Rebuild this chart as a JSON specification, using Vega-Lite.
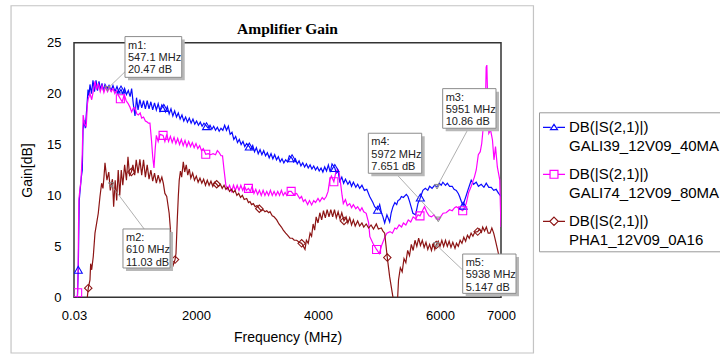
{
  "$schema": "https://vega.github.io/schema/vega-lite/v6.json",
  "width": 427,
  "height": 254.6,
  "autosize": {"type": "none"},
  "padding": {"left": 74, "top": 42.7, "right": 219, "bottom": 58.7},
  "background": "white",
  "title": {"text": "Amplifier Gain", "frame": "group", "font": "Liberation Serif", "fontSize": 15.5, "fontWeight": "bold", "color": "black", "baseline": "alphabetic", "offset": -44.3, "anchor": "middle"},
  "config": {
    "view": {"stroke": "#333333", "strokeWidth": 1.5},
    "axis": {"labelFont": "Liberation Sans", "labelFontSize": 13, "labelColor": "black", "titleFont": "Liberation Sans", "titleFontSize": 14, "titleFontWeight": "normal", "titleColor": "black", "ticks": false, "domain": false, "gridColor": "#cccccc", "gridWidth": 1}
  },
  "datasets": {
    "gali39": [
      {"f":0.03,"g":-6},{"f":45,"g":-1},{"f":57,"g":0.3},{"f":70,"g":2.7,"m":1},{"f":78,"g":6},{"f":86,"g":9.5},{"f":100,"g":10.5},{"f":120,"g":11.8},{"f":136,"g":12.5},{"f":148,"g":16.4},{"f":164,"g":17.4},{"f":185,"g":16.6},{"f":213,"g":18.9},{"f":230,"g":20.4},{"f":246,"g":19.8},{"f":262,"g":20.9},{"f":287,"g":20.0},{"f":311,"g":21.3},{"f":336,"g":20.2},{"f":361,"g":21.3},{"f":385,"g":20.3},{"f":410,"g":21.2},{"f":434,"g":20.4},{"f":459,"g":21.0},{"f":484,"g":20.3},{"f":508,"g":20.9},{"f":547.1,"g":20.47},{"f":574,"g":20.8},{"f":607,"g":20.3},{"f":639,"g":20.8},{"f":672,"g":20.2},{"f":705,"g":20.7},{"f":738,"g":20.1},{"f":771,"g":20.4,"m":1},{"f":800,"g":20.0},{"f":830,"g":20.5},{"f":860,"g":19.9},{"f":890,"g":20.3},{"f":920,"g":19.7},{"f":945,"g":20.5},{"f":972,"g":19.0},{"f":1000,"g":17.8},{"f":1025,"g":19.6},{"f":1050,"g":18.4},{"f":1080,"g":19.4},{"f":1110,"g":18.6},{"f":1140,"g":19.3},{"f":1170,"g":18.5},{"f":1200,"g":19.3},{"f":1230,"g":18.5},{"f":1260,"g":19.2},{"f":1290,"g":18.4},{"f":1320,"g":19.1},{"f":1350,"g":18.4},{"f":1380,"g":19.0},{"f":1410,"g":18.3},{"f":1440,"g":18.9},{"f":1472,"g":18.6,"m":1},{"f":1500,"g":18.2},{"f":1530,"g":18.7},{"f":1560,"g":18.0},{"f":1590,"g":18.5},{"f":1620,"g":17.8},{"f":1650,"g":18.3},{"f":1680,"g":17.7},{"f":1710,"g":18.1},{"f":1740,"g":17.5},{"f":1770,"g":17.9},{"f":1800,"g":17.3},{"f":1830,"g":17.7},{"f":1860,"g":17.2},{"f":1890,"g":17.6},{"f":1920,"g":17.1},{"f":1950,"g":17.5},{"f":1980,"g":17.0},{"f":2010,"g":17.3},{"f":2040,"g":16.9},{"f":2070,"g":17.2},{"f":2100,"g":16.8},{"f":2130,"g":17.1},{"f":2173,"g":16.8,"m":1},{"f":2200,"g":16.6},{"f":2230,"g":16.9},{"f":2260,"g":16.5},{"f":2290,"g":16.8},{"f":2320,"g":16.4},{"f":2350,"g":16.7},{"f":2380,"g":16.3},{"f":2410,"g":16.6},{"f":2440,"g":16.4},{"f":2470,"g":16.9},{"f":2500,"g":16.4},{"f":2530,"g":16.8},{"f":2560,"g":16.0},{"f":2590,"g":16.2},{"f":2620,"g":15.5},{"f":2650,"g":15.8},{"f":2680,"g":15.2},{"f":2710,"g":15.5},{"f":2740,"g":15.0},{"f":2770,"g":15.3},{"f":2800,"g":14.8},{"f":2830,"g":15.1},{"f":2874,"g":14.8,"m":1},{"f":2900,"g":14.5},{"f":2930,"g":14.9},{"f":2960,"g":14.3},{"f":2990,"g":14.7},{"f":3020,"g":14.1},{"f":3050,"g":14.5},{"f":3080,"g":14.0},{"f":3110,"g":14.4},{"f":3140,"g":13.9},{"f":3170,"g":14.2},{"f":3200,"g":13.7},{"f":3230,"g":14.1},{"f":3260,"g":13.6},{"f":3290,"g":14.0},{"f":3320,"g":13.5},{"f":3350,"g":13.8},{"f":3380,"g":13.3},{"f":3410,"g":13.6},{"f":3440,"g":13.2},{"f":3470,"g":13.5},{"f":3500,"g":13.3},{"f":3530,"g":13.9},{"f":3575,"g":13.65,"m":1},{"f":3600,"g":13.3},{"f":3630,"g":13.6},{"f":3660,"g":13.1},{"f":3690,"g":13.4},{"f":3720,"g":12.9},{"f":3750,"g":13.2},{"f":3780,"g":12.8},{"f":3810,"g":13.1},{"f":3840,"g":12.7},{"f":3870,"g":13.0},{"f":3900,"g":12.6},{"f":3930,"g":12.9},{"f":3960,"g":12.5},{"f":3990,"g":12.8},{"f":4020,"g":12.4},{"f":4050,"g":12.7},{"f":4080,"g":12.3},{"f":4110,"g":12.8},{"f":4140,"g":12.4},{"f":4170,"g":13.0},{"f":4200,"g":12.3},{"f":4230,"g":13.1},{"f":4276,"g":12.7,"m":1},{"f":4300,"g":12.2},{"f":4330,"g":12.4},{"f":4356,"g":11.4},{"f":4390,"g":11.8},{"f":4420,"g":11.2},{"f":4450,"g":11.6},{"f":4490,"g":11.1},{"f":4520,"g":11.4},{"f":4550,"g":10.9},{"f":4580,"g":11.3},{"f":4620,"g":10.8},{"f":4650,"g":11.1},{"f":4683,"g":10.7},{"f":4720,"g":11.0},{"f":4760,"g":10.5},{"f":4800,"g":10.6},{"f":4847,"g":9.9},{"f":4900,"g":9.3},{"f":4929,"g":8.9},{"f":4977,"g":8.6,"m":1},{"f":5011,"g":9.1},{"f":5040,"g":8.3},{"f":5065,"g":7.9},{"f":5093,"g":7.3},{"f":5130,"g":8.1},{"f":5175,"g":7.4},{"f":5200,"g":8.3},{"f":5229,"g":8.9},{"f":5260,"g":9.3},{"f":5290,"g":9.1},{"f":5311,"g":9.5},{"f":5340,"g":9.6},{"f":5367,"g":9.9},{"f":5400,"g":9.8},{"f":5448,"g":10.1},{"f":5475,"g":9.9},{"f":5502,"g":9.4},{"f":5530,"g":8.8},{"f":5556,"g":8.25},{"f":5600,"g":8.1},{"f":5638,"g":9.2},{"f":5678,"g":9.8,"m":1},{"f":5720,"g":10.5},{"f":5760,"g":10.7},{"f":5800,"g":10.5},{"f":5830,"g":10.9},{"f":5870,"g":10.7},{"f":5910,"g":11.0},{"f":5951,"g":10.86},{"f":5990,"g":11.2},{"f":6020,"g":11.0},{"f":6047,"g":11.3},{"f":6090,"g":11.0},{"f":6120,"g":11.2},{"f":6157,"g":10.9},{"f":6200,"g":10.9},{"f":6230,"g":10.6},{"f":6267,"g":10.5},{"f":6300,"g":10.2},{"f":6321,"g":9.9},{"f":6350,"g":9.4},{"f":6379,"g":9.0,"m":1},{"f":6402,"g":9.5},{"f":6430,"g":10.0},{"f":6456,"g":10.5},{"f":6490,"g":11.1},{"f":6512,"g":11.5},{"f":6550,"g":11.1},{"f":6594,"g":11.3},{"f":6630,"g":10.9},{"f":6676,"g":11.1},{"f":6720,"g":10.8},{"f":6758,"g":11.2},{"f":6800,"g":10.8},{"f":6840,"g":10.8},{"f":6880,"g":10.5},{"f":6921,"g":10.6},{"f":6960,"g":10.2},{"f":6975,"g":10.1},{"f":7000,"g":9.9}
    ],
    "gali74": [
      {"f":0.03,"g":-6},{"f":45,"g":-1},{"f":60,"g":0.45,"m":1},{"f":68,"g":3},{"f":75,"g":7.5},{"f":80,"g":9.6},{"f":95,"g":10.5},{"f":115,"g":11.5},{"f":135,"g":14},{"f":150,"g":17.9},{"f":175,"g":17.0},{"f":200,"g":16.8},{"f":220,"g":19.0},{"f":234,"g":19.5},{"f":262,"g":20.0},{"f":290,"g":19.4},{"f":315,"g":20.2},{"f":344,"g":21.2},{"f":372,"g":20.4},{"f":400,"g":21.0},{"f":430,"g":20.2},{"f":460,"g":20.8},{"f":490,"g":20.1},{"f":520,"g":20.7},{"f":550,"g":20.2},{"f":580,"g":20.6},{"f":610,"g":20.2},{"f":640,"g":20.5},{"f":670,"g":20.0},{"f":700,"g":20.3},{"f":730,"g":19.8},{"f":760,"g":19.5,"m":1},{"f":790,"g":19.2},{"f":825,"g":19.9},{"f":855,"g":19.3},{"f":885,"g":19.05},{"f":915,"g":18.7},{"f":945,"g":18.2},{"f":975,"g":18.6},{"f":1000,"g":18.6},{"f":1030,"g":18.0},{"f":1055,"g":17.9},{"f":1085,"g":18.1},{"f":1110,"g":17.6},{"f":1140,"g":17.7},{"f":1170,"g":17.3},{"f":1191,"g":17.25},{"f":1220,"g":17.1},{"f":1245,"g":17.1},{"f":1270,"g":15.45},{"f":1290,"g":13.8},{"f":1311,"g":12.7},{"f":1330,"g":14.5},{"f":1350,"g":15.9},{"f":1380,"g":15.3},{"f":1410,"g":16.0},{"f":1460,"g":15.9,"m":1},{"f":1490,"g":15.3},{"f":1520,"g":16.0},{"f":1550,"g":15.3},{"f":1580,"g":15.8},{"f":1610,"g":15.2},{"f":1640,"g":15.7},{"f":1670,"g":15.1},{"f":1700,"g":15.6},{"f":1730,"g":15.0},{"f":1760,"g":15.5},{"f":1790,"g":14.9},{"f":1820,"g":15.4},{"f":1850,"g":14.8},{"f":1880,"g":15.3},{"f":1910,"g":14.8},{"f":1940,"g":15.2},{"f":1970,"g":14.7},{"f":2000,"g":15.1},{"f":2030,"g":14.6},{"f":2060,"g":14.9},{"f":2090,"g":14.4},{"f":2120,"g":14.6},{"f":2160,"g":14.05,"m":1},{"f":2200,"g":14.1},{"f":2240,"g":14.0},{"f":2280,"g":14.1},{"f":2320,"g":14.0},{"f":2350,"g":14.4},{"f":2380,"g":14.2},{"f":2410,"g":13.9},{"f":2435,"g":13.9},{"f":2460,"g":12.5},{"f":2490,"g":11.0},{"f":2520,"g":10.6},{"f":2550,"g":11.0},{"f":2585,"g":10.4},{"f":2615,"g":11.0},{"f":2645,"g":10.5},{"f":2675,"g":11.0},{"f":2705,"g":10.5},{"f":2735,"g":11.0},{"f":2765,"g":10.5},{"f":2795,"g":10.9},{"f":2825,"g":10.5},{"f":2860,"g":10.7,"m":1},{"f":2890,"g":10.4},{"f":2920,"g":10.9},{"f":2950,"g":10.2},{"f":2980,"g":10.6},{"f":3010,"g":10.1},{"f":3040,"g":10.5},{"f":3070,"g":10.0},{"f":3100,"g":10.5},{"f":3130,"g":10.0},{"f":3160,"g":10.4},{"f":3190,"g":10.0},{"f":3220,"g":10.5},{"f":3250,"g":10.0},{"f":3280,"g":10.4},{"f":3310,"g":10.0},{"f":3340,"g":10.4},{"f":3370,"g":10.0},{"f":3400,"g":10.5},{"f":3430,"g":10.0},{"f":3460,"g":10.3},{"f":3490,"g":10.0},{"f":3520,"g":10.4},{"f":3560,"g":10.4,"m":1},{"f":3600,"g":10.1},{"f":3650,"g":10.2},{"f":3700,"g":9.7},{"f":3730,"g":9.9},{"f":3760,"g":9.4},{"f":3790,"g":9.6},{"f":3830,"g":9.1},{"f":3860,"g":9.5},{"f":3896,"g":9.07},{"f":3930,"g":9.5},{"f":3960,"g":9.3},{"f":4000,"g":9.7},{"f":4030,"g":9.4},{"f":4070,"g":9.8},{"f":4100,"g":9.6},{"f":4135,"g":9.9},{"f":4165,"g":10.4},{"f":4192,"g":11.5},{"f":4220,"g":11.9},{"f":4260,"g":11.35,"m":1},{"f":4290,"g":12.2},{"f":4320,"g":12.6},{"f":4345,"g":12.3},{"f":4370,"g":11.2},{"f":4395,"g":10.0},{"f":4415,"g":9.2},{"f":4450,"g":9.6},{"f":4480,"g":9.0},{"f":4520,"g":9.2},{"f":4550,"g":8.8},{"f":4580,"g":9.1},{"f":4620,"g":8.7},{"f":4650,"g":8.9},{"f":4690,"g":8.5},{"f":4720,"g":8.8},{"f":4750,"g":8.4},{"f":4790,"g":8.25},{"f":4830,"g":7.3},{"f":4850,"g":5.95},{"f":4900,"g":5.3},{"f":4960,"g":4.7,"m":1},{"f":5005,"g":4.3},{"f":5044,"g":5.1},{"f":5098,"g":5.95},{"f":5130,"g":6.3},{"f":5180,"g":6.45},{"f":5220,"g":6.3},{"f":5260,"g":6.8},{"f":5290,"g":6.7},{"f":5330,"g":7.1},{"f":5370,"g":6.9},{"f":5400,"g":7.3},{"f":5440,"g":7.1},{"f":5480,"g":7.6},{"f":5520,"g":7.4},{"f":5560,"g":7.9},{"f":5600,"g":7.7},{"f":5640,"g":8.1},{"f":5672,"g":8.0,"m":1},{"f":5720,"g":8.6},{"f":5746,"g":8.9},{"f":5780,"g":8.4},{"f":5820,"g":8.0},{"f":5860,"g":7.9},{"f":5900,"g":8.1},{"f":5940,"g":7.7},{"f":5972,"g":7.651},{"f":6010,"g":7.9},{"f":6050,"g":8.25},{"f":6100,"g":8.3},{"f":6157,"g":8.6},{"f":6200,"g":8.5},{"f":6240,"g":8.8},{"f":6267,"g":8.9},{"f":6320,"g":8.7},{"f":6372,"g":8.5,"m":1},{"f":6400,"g":8.8},{"f":6430,"g":9.2},{"f":6470,"g":10.3},{"f":6512,"g":10.9},{"f":6566,"g":11.85},{"f":6594,"g":12.5},{"f":6628,"g":14.0},{"f":6660,"g":14.3},{"f":6684,"g":15.1},{"f":6714,"g":17.0},{"f":6745,"g":19.0},{"f":6757,"g":22.6},{"f":6768,"g":22.8},{"f":6779,"g":20.0},{"f":6800,"g":16.1},{"f":6830,"g":16.4},{"f":6860,"g":15.45},{"f":6885,"g":13.5},{"f":6910,"g":14.8},{"f":6940,"g":12.8},{"f":6965,"g":12.0},{"f":6980,"g":11.5},{"f":6990,"g":9.0},{"f":7000,"g":6.9}
    ],
    "pha1": [
      {"f":0.03,"g":-8},{"f":150,"g":-3},{"f":213,"g":-0.3},{"f":234,"g":0.9,"m":1},{"f":262,"g":1.7},{"f":273,"g":3.3},{"f":290,"g":2.7},{"f":316,"g":4.0},{"f":344,"g":6.3},{"f":372,"g":7.3},{"f":398,"g":8.25},{"f":426,"g":9.9},{"f":453,"g":11.2},{"f":475,"g":10.7},{"f":492,"g":11.85},{"f":508,"g":13.2},{"f":540,"g":11.5},{"f":570,"g":12.3},{"f":595,"g":10.5},{"f":610,"g":11.03},{"f":630,"g":11.6},{"f":650,"g":8.9},{"f":675,"g":11.5},{"f":700,"g":9.5},{"f":725,"g":12.5},{"f":750,"g":10.0},{"f":775,"g":12.5},{"f":800,"g":11.0},{"f":830,"g":13.0},{"f":860,"g":11.5},{"f":885,"g":13.8},{"f":910,"g":12.0},{"f":940,"g":12.3,"m":1},{"f":965,"g":13.0},{"f":995,"g":12.0},{"f":1020,"g":13.5},{"f":1050,"g":12.2},{"f":1080,"g":13.55},{"f":1110,"g":12.0},{"f":1140,"g":13.5},{"f":1170,"g":11.8},{"f":1200,"g":13.0},{"f":1230,"g":11.6},{"f":1260,"g":12.5},{"f":1290,"g":11.4},{"f":1320,"g":12.2},{"f":1350,"g":11.2},{"f":1380,"g":12.0},{"f":1410,"g":11.3},{"f":1440,"g":11.8},{"f":1464,"g":11.2},{"f":1490,"g":10.2},{"f":1520,"g":9.9},{"f":1560,"g":8.25},{"f":1590,"g":5.95},{"f":1617,"g":3.0},{"f":1656,"g":3.7,"m":1},{"f":1672,"g":4.3},{"f":1693,"g":7.6},{"f":1710,"g":9.9},{"f":1725,"g":11.5},{"f":1745,"g":12.4},{"f":1765,"g":11.8},{"f":1792,"g":13.3},{"f":1815,"g":12.3},{"f":1840,"g":13.0},{"f":1865,"g":12.0},{"f":1890,"g":12.6},{"f":1915,"g":11.7},{"f":1945,"g":12.2},{"f":1975,"g":11.5},{"f":2005,"g":11.9},{"f":2035,"g":11.3},{"f":2065,"g":11.7},{"f":2095,"g":11.2},{"f":2125,"g":11.6},{"f":2155,"g":11.0},{"f":2185,"g":11.5},{"f":2215,"g":11.0},{"f":2245,"g":11.4},{"f":2275,"g":10.9},{"f":2305,"g":11.3},{"f":2339,"g":11.1,"m":1},{"f":2370,"g":10.9},{"f":2400,"g":11.1},{"f":2430,"g":10.7},{"f":2460,"g":11.0},{"f":2490,"g":10.6},{"f":2520,"g":10.8},{"f":2550,"g":10.4},{"f":2580,"g":10.6},{"f":2611,"g":10.3},{"f":2640,"g":10.5},{"f":2670,"g":10.0},{"f":2700,"g":10.2},{"f":2730,"g":9.8},{"f":2760,"g":10.0},{"f":2790,"g":9.6},{"f":2831,"g":9.7},{"f":2860,"g":9.3},{"f":2885,"g":9.4},{"f":2910,"g":9.1},{"f":2940,"g":9.2},{"f":2970,"g":8.9},{"f":3000,"g":9.0},{"f":3038,"g":8.7,"m":1},{"f":3070,"g":8.5},{"f":3100,"g":8.6},{"f":3130,"g":8.4},{"f":3160,"g":8.5},{"f":3190,"g":8.3},{"f":3213,"g":8.4},{"f":3250,"g":8.0},{"f":3280,"g":7.9},{"f":3323,"g":7.6},{"f":3360,"g":7.2},{"f":3400,"g":6.9},{"f":3431,"g":6.6},{"f":3470,"g":6.3},{"f":3500,"g":6.1},{"f":3541,"g":5.8},{"f":3580,"g":5.8},{"f":3610,"g":5.6},{"f":3651,"g":5.6},{"f":3690,"g":5.4},{"f":3732,"g":5.3,"m":1},{"f":3760,"g":5.0},{"f":3787,"g":4.7},{"f":3810,"g":5.6},{"f":3840,"g":5.3},{"f":3870,"g":6.3},{"f":3895,"g":6.0},{"f":3920,"g":7.2},{"f":3945,"g":6.6},{"f":3970,"g":7.9},{"f":4000,"g":7.3},{"f":4030,"g":8.3},{"f":4060,"g":7.6},{"f":4090,"g":8.5},{"f":4120,"g":7.8},{"f":4150,"g":8.6},{"f":4180,"g":7.9},{"f":4210,"g":8.6},{"f":4240,"g":7.9},{"f":4270,"g":8.6},{"f":4300,"g":7.8},{"f":4330,"g":8.4},{"f":4360,"g":7.7},{"f":4390,"g":8.3},{"f":4426,"g":7.5,"m":1},{"f":4460,"g":7.9},{"f":4490,"g":7.3},{"f":4520,"g":7.8},{"f":4550,"g":7.1},{"f":4580,"g":7.6},{"f":4610,"g":7.0},{"f":4650,"g":7.5},{"f":4683,"g":7.0},{"f":4720,"g":7.3},{"f":4750,"g":6.9},{"f":4790,"g":7.2},{"f":4830,"g":6.8},{"f":4870,"g":7.1},{"f":4910,"g":6.7},{"f":4956,"g":7.2},{"f":4990,"g":6.7},{"f":5038,"g":6.8},{"f":5065,"g":6.5},{"f":5093,"g":6.3},{"f":5136,"g":3.9,"m":1},{"f":5175,"g":2.0},{"f":5229,"g":0.0},{"f":5255,"g":-3},{"f":5280,"g":-3},{"f":5306,"g":0.0},{"f":5320,"g":1.7},{"f":5350,"g":2.9},{"f":5380,"g":2.5},{"f":5410,"g":3.8},{"f":5440,"g":3.4},{"f":5470,"g":4.6},{"f":5500,"g":4.1},{"f":5530,"g":5.2},{"f":5560,"g":4.6},{"f":5590,"g":5.6},{"f":5620,"g":5.0},{"f":5650,"g":5.8},{"f":5680,"g":5.1},{"f":5710,"g":5.6},{"f":5740,"g":4.9},{"f":5770,"g":5.4},{"f":5800,"g":4.7},{"f":5830,"g":5.2},{"f":5860,"g":4.6},{"f":5890,"g":5.3},{"f":5915,"g":4.7},{"f":5938,"g":5.147,"m":1},{"f":5970,"g":5.5},{"f":6000,"g":5.0},{"f":6030,"g":5.6},{"f":6060,"g":5.0},{"f":6090,"g":5.6},{"f":6120,"g":5.0},{"f":6150,"g":5.5},{"f":6180,"g":4.9},{"f":6210,"g":5.4},{"f":6246,"g":4.8},{"f":6270,"g":5.3},{"f":6300,"g":5.0},{"f":6330,"g":5.6},{"f":6360,"g":5.3},{"f":6390,"g":5.9},{"f":6420,"g":5.5},{"f":6450,"g":6.1},{"f":6480,"g":5.8},{"f":6510,"g":6.3},{"f":6540,"g":6.0},{"f":6570,"g":6.4},{"f":6618,"g":6.45,"m":1},{"f":6650,"g":6.7},{"f":6680,"g":6.4},{"f":6700,"g":6.9},{"f":6730,"g":6.5},{"f":6760,"g":6.9},{"f":6790,"g":6.3},{"f":6820,"g":6.3},{"f":6850,"g":6.8},{"f":6880,"g":6.3},{"f":6900,"g":5.8},{"f":6950,"g":4.5},{"f":6975,"g":3.8},{"f":7000,"g":3.5}
    ],
    "readouts": [
      {"id":"m1","mf":547.1,"mg":20.47,"x1":836,"x2":1766,"y1":21.6,"y2":25.6,"lx":846,"ly":22.2},
      {"id":"m2","mf":610,"mg":11.03,"x1":803,"x2":1574,"y1":2.88,"y2":6.71,"lx":1150,"ly":6.71},
      {"id":"m3","mf":5951,"mg":10.86,"x1":6044,"x2":6918,"y1":16.6,"y2":20.49,"lx":6468,"ly":16.6},
      {"id":"m4","mf":5972,"mg":7.651,"x1":4825,"x2":5700,"y1":12.18,"y2":16.11,"lx":5273,"ly":12.18},
      {"id":"m5","mf":5938,"mg":5.147,"x1":6372,"x2":7246,"y1":0.39,"y2":4.25,"lx":6372,"ly":2.68}
    ]
  },
  "layer": [
    {
      "data": {"values": [{}]},
      "mark": {"type": "rect", "fillOpacity": 0, "stroke": "#c4c4c4", "strokeWidth": 1.2, "clip": false},
      "encoding": {
        "x": {"datum": -1032, "type": "quantitative"},
        "x2": {"datum": 7532},
        "y": {"datum": 28.63, "type": "quantitative"},
        "y2": {"datum": -5.47}
      }
    },
    {
      "data": {"name": "gali39"},
      "mark": {"type": "line", "clip": true, "strokeWidth": 1.2},
      "encoding": {
        "x": {"field": "f", "type": "quantitative",
              "scale": {"domain": [0.03, 7000], "nice": false, "zero": false},
              "axis": {"title": "Frequency (MHz)", "values": [0.03, 2000, 4000, 6000, 7000],
                       "labelExpr": "datum.value < 1 ? '0.03' : format(datum.value, 'd')",
                       "labelPadding": 12, "titlePadding": 8, "labelFlush": false, "labelOverlap": false}},
        "y": {"field": "g", "type": "quantitative",
              "scale": {"domain": [0, 25], "nice": false, "zero": false},
              "axis": {"title": "Gain[dB]", "values": [0, 5, 10, 15, 20, 25], "labelPadding": 13, "titlePadding": 12}},
        "color": {"datum": "GALI39_12V09_40MA", "type": "nominal",
                  "scale": {"domain": ["GALI39_12V09_40MA", "GALI74_12V09_80MA", "PHA1_12V09_0A16"], "range": ["#0a0aff", "#ff00ff", "#8c1414"]},
                  "legend": {
                    "title": null, "orient": "none", "legendX": 465, "legendY": 69.6,
                    "symbolSize": 484, "symbolStrokeWidth": 1.2,
                    "labelFont": "Liberation Sans", "labelFontSize": 15, "labelColor": "black", "labelLimit": 0, "labelOffset": 3,
                    "labelExpr": "['DB(|S(2,1)|)', datum.label]",
                    "padding": 3, "rowPadding": 8,
                    "strokeColor": "#999999", "fillColor": "white",
                    "encode": {
                      "symbols": {"update": {
                        "shape": {"signal": "datum.value === 'GALI39_12V09_40MA' ? 'M-1,0H-0.3M0.3,0H1M0,-0.27L0.32,0.22L-0.32,0.22Z' : datum.value === 'GALI74_12V09_80MA' ? 'M-1,0H-0.36M0.36,0H1M-0.36,-0.36H0.36V0.36H-0.36Z' : 'M-1,0H-0.38M0.38,0H1M0,-0.38L0.38,0L0,0.38L-0.38,0Z'"},
                        "fill": {"value": "transparent"}
                      }},
                      "labels": {"update": {"lineHeight": {"value": 19}}}
                    }
                  }}
      }
    },
    {
      "data": {"name": "gali74"},
      "mark": {"type": "line", "clip": true, "strokeWidth": 1.2},
      "encoding": {
        "x": {"field": "f", "type": "quantitative"},
        "y": {"field": "g", "type": "quantitative"},
        "color": {"datum": "GALI74_12V09_80MA", "type": "nominal"}
      }
    },
    {
      "data": {"name": "pha1"},
      "mark": {"type": "line", "clip": true, "strokeWidth": 1.2},
      "encoding": {
        "x": {"field": "f", "type": "quantitative"},
        "y": {"field": "g", "type": "quantitative"},
        "color": {"datum": "PHA1_12V09_0A16", "type": "nominal"}
      }
    },
    {
      "data": {"name": "gali39"},
      "transform": [{"filter": "datum.m == 1"}],
      "mark": {"type": "point", "shape": "triangle-up", "size": 64, "filled": false, "color": "#0a0aff", "strokeWidth": 1.1, "opacity": 1, "clip": true},
      "encoding": {"x": {"field": "f", "type": "quantitative"}, "y": {"field": "g", "type": "quantitative"}}
    },
    {
      "data": {"name": "gali74"},
      "transform": [{"filter": "datum.m == 1"}],
      "mark": {"type": "point", "shape": "square", "size": 64, "filled": false, "color": "#ff00ff", "strokeWidth": 1.1, "opacity": 1, "clip": true},
      "encoding": {"x": {"field": "f", "type": "quantitative"}, "y": {"field": "g", "type": "quantitative"}}
    },
    {
      "data": {"name": "pha1"},
      "transform": [{"filter": "datum.m == 1"}],
      "mark": {"type": "point", "shape": "diamond", "size": 55, "filled": false, "color": "#8c1414", "strokeWidth": 1.1, "opacity": 1, "clip": true},
      "encoding": {"x": {"field": "f", "type": "quantitative"}, "y": {"field": "g", "type": "quantitative"}}
    },
    {
      "data": {"name": "readouts"},
      "mark": {"type": "rule", "color": "#9a9a9a", "strokeWidth": 0.8},
      "encoding": {
        "x": {"field": "mf", "type": "quantitative"}, "y": {"field": "mg", "type": "quantitative"},
        "x2": {"field": "lx"}, "y2": {"field": "ly"}
      }
    },
    {
      "data": {"name": "readouts"},
      "mark": {"type": "rect", "fill": "#b8b8b8", "xOffset": 3, "x2Offset": 3, "yOffset": 3, "y2Offset": 3, "clip": false},
      "encoding": {
        "x": {"field": "x1", "type": "quantitative"}, "x2": {"field": "x2"},
        "y": {"field": "y1", "type": "quantitative"}, "y2": {"field": "y2"}
      }
    },
    {
      "data": {"name": "readouts"},
      "mark": {"type": "rect", "fill": "white", "stroke": "#8c8c8c", "strokeWidth": 1, "clip": false},
      "encoding": {
        "x": {"field": "x1", "type": "quantitative"}, "x2": {"field": "x2"},
        "y": {"field": "y1", "type": "quantitative"}, "y2": {"field": "y2"}
      }
    },
    {
      "data": {"name": "readouts"},
      "transform": [{"calculate": "datum.id + ':\\n' + datum.mf + ' MHz\\n' + datum.mg + ' dB'", "as": "readout"}],
      "mark": {"type": "text", "align": "left", "baseline": "top", "dx": 3, "dy": 3, "font": "Liberation Sans", "fontSize": 11, "lineHeight": 12.4, "lineBreak": "\n", "color": "#222222"},
      "encoding": {
        "x": {"field": "x1", "type": "quantitative"},
        "y": {"field": "y2", "type": "quantitative"},
        "text": {"field": "readout", "type": "nominal"}
      }
    },
    {
      "data": {"name": "readouts"},
      "mark": {"type": "point", "shape": "triangle-down", "size": 28, "filled": false, "color": "#888888", "strokeWidth": 1, "opacity": 1},
      "encoding": {"x": {"field": "mf", "type": "quantitative"}, "y": {"field": "mg", "type": "quantitative"}}
    }
  ]
}
